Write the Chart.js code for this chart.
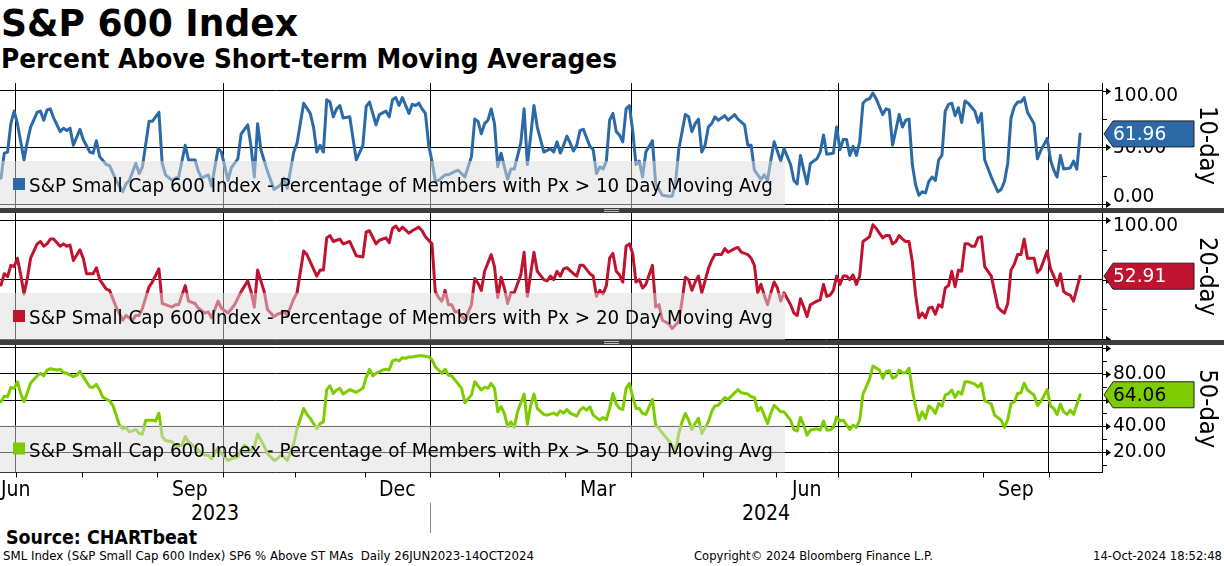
<!DOCTYPE html>
<html>
<head>
<meta charset="utf-8">
<script src="https://cdn.jsdelivr.net/npm/chart.js@4.4.1/dist/chart.umd.min.js"></script>
<style>
html, body { margin: 0; padding: 0; background: #fff; }
#page { position: relative; width: 1224px; height: 566px; overflow: hidden; font-family: "DejaVu Sans", sans-serif; color: #000; }
.t { position: absolute; white-space: pre; line-height: 1; transform-origin: 0 0; }
canvas { position: absolute; left: 0; }
.sep { position: absolute; left: 0; width: 1224px; height: 5px; background: #3d3d3d; }
.grip { position: absolute; left: 604px; width: 15px; height: 1px; background: #bbb; }
.yearsep { position: absolute; width: 1px; background: #888; }
</style>
</head>
<body>
<div id="page">
  <div class="t" id="title" style="left:1px;top:4px;font-size:38px;font-weight:bold">S&amp;P 600 Index</div>
  <div class="t" id="subtitle" style="left:1px;top:46px;font-size:26px;font-weight:bold">Percent Above Short-term Moving Averages</div>

  <canvas id="c1" width="1224" height="125" style="top:83px"></canvas>
  <div class="sep" style="top:208px"></div>
  <div class="grip" style="top:209px"></div><div class="grip" style="top:211px"></div>
  <canvas id="c2" width="1224" height="127" style="top:213px"></canvas>
  <div class="sep" style="top:340px"></div>
  <div class="grip" style="top:341px"></div><div class="grip" style="top:343px"></div>
  <canvas id="c3" width="1224" height="134" style="top:345px"></canvas>

  <div class="t" id="source" style="left:6px;top:528px;font-size:19px;font-weight:bold">Source: CHARTbeat</div>
  <div class="t" id="foot1" style="left:3px;top:550px;font-size:12px">SML Index (S&amp;P Small Cap 600 Index) SP6 % Above ST MAs  Daily 26JUN2023-14OCT2024</div>
  <div class="t" id="foot2" style="left:694px;top:550px;font-size:12px">Copyright© 2024 Bloomberg Finance L.P.</div>
  <div class="t" id="foot3" style="left:1093px;top:550px;font-size:12px">14-Oct-2024 18:52:48</div>
</div>

<script>
// trading-session index since 26 Jun 2023 (0) through 14 Oct 2024 (328), % of members above MA
const tenDay = [
  [0,23],[1,45],[2,46],[3,71],[4,82],[5,71],[7,39],[8,55],[9,68],[11,81],[12,82],[13,74],[14,83],[15,84],[16,76],[18,64],[19,67],[20,65],[21,67],[22,52],[24,66],[25,57],[27,46],[28,45],[29,56],[30,42],[32,35],[33,34],[35,21],[37,11],[38,18],[39,21],[41,36],[42,27],[43,33],[45,73],[46,73],[48,81],[49,36],[50,26],[52,21],[53,23],[54,24],[56,52],[57,39],[59,39],[60,29],[61,23],[63,26],[64,16],[66,49],[67,46],[69,21],[70,32],[72,40],[73,62],[75,70],[76,51],[77,24],[78,71],[79,48],[81,29],[83,13],[85,17],[86,23],[87,14],[89,46],[90,54],[92,89],[94,80],[95,68],[96,46],[97,52],[98,46],[99,92],[100,90],[101,77],[102,84],[103,87],[104,76],[106,77],[108,39],[110,52],[111,86],[112,90],[114,70],[115,79],[117,82],[118,77],[119,92],[120,94],[121,87],[122,94],[124,80],[125,88],[126,87],[127,89],[128,84],[129,80],[130,52],[131,38],[132,21],[133,21],[135,26],[136,26],[138,29],[139,30],[141,24],[143,42],[144,75],[145,73],[146,62],[147,71],[148,74],[149,84],[150,71],[151,33],[152,45],[153,33],[154,22],[155,31],[156,31],[158,54],[159,84],[160,35],[161,60],[162,87],[163,68],[164,57],[165,46],[167,49],[168,46],[169,55],[170,45],[171,52],[172,60],[173,54],[174,47],[175,52],[176,65],[177,66],[179,51],[180,48],[181,27],[182,33],[183,31],[184,38],[185,74],[186,80],[187,64],[188,61],[189,55],[190,84],[191,87],[192,65],[193,35],[194,38],[195,24],[196,46],[198,56],[199,18],[200,13],[201,8],[203,7],[204,7],[205,18],[206,48],[208,79],[209,77],[210,64],[211,71],[212,75],[213,46],[214,52],[215,68],[216,71],[217,77],[218,74],[220,78],[221,74],[223,79],[224,75],[226,70],[227,52],[228,52],[229,30],[231,22],[232,26],[233,21],[234,39],[235,55],[237,38],[238,49],[240,35],[241,21],[242,18],[243,43],[244,30],[245,18],[246,36],[248,40],[249,46],[250,61],[251,44],[253,45],[254,68],[255,48],[256,57],[257,57],[258,43],[259,51],[260,43],[261,55],[262,89],[263,92],[264,93],[265,98],[266,93],[268,79],[269,84],[270,83],[271,52],[273,79],[274,68],[275,74],[276,75],[277,35],[278,17],[279,8],[280,11],[281,10],[282,20],[283,24],[284,21],[285,39],[286,43],[287,82],[288,88],[289,89],[290,78],[291,85],[292,72],[293,91],[294,89],[296,82],[297,72],[298,80],[299,39],[301,24],[303,11],[304,13],[305,20],[306,36],[307,76],[308,86],[309,90],[310,90],[311,94],[312,81],[314,71],[315,40],[316,47],[318,58],[319,39],[320,30],[321,24],[322,43],[323,31],[325,32],[326,38],[327,31],[328,61.96]
];

const twentyDay = [
  [0,45.5],[1,55],[2,52.5],[3,62],[4,61],[5,68],[6,54],[7,38],[8,51],[9,68],[11,80],[12,82],[13,78],[14,80],[15,84],[16,84],[17,81],[18,78],[19,80],[20,78],[21,79],[22,66],[24,75],[25,68],[26,55],[28,55],[29,60],[30,50],[32,42],[33,41],[35,27],[37,16],[38,20],[40,16],[41,20],[42,20],[43,26],[45,44],[46,48],[48,59],[49,30],[50,29],[52,27],[53,29],[54,29],[56,45],[57,32],[59,30],[60,26],[62,22],[63,23],[64,18],[66,32],[67,26],[69,22],[71,29],[73,40],[75,49],[76,40],[77,27],[78,58],[80,40],[81,25],[83,19],[84,21],[86,23],[87,20],[89,34],[90,39],[92,74],[93,71],[94,65],[96,53],[97,58],[98,58],[99,85],[100,87],[101,82],[102,83],[103,84],[104,80],[106,82],[108,70],[110,69],[111,90],[112,91],[114,80],[115,83],[117,85],[118,81],[119,93],[120,95],[121,91],[122,94],[124,89],[125,91],[127,94],[128,91],[129,86],[131,80],[132,40],[133,35],[134,32],[135,41],[136,29],[137,29],[138,23],[139,23],[141,16],[143,29],[144,51],[145,47],[146,41],[147,57],[149,71],[150,61],[151,35],[152,52],[153,43],[154,30],[155,39],[156,39],[158,54],[159,73],[160,36],[161,55],[162,73],[163,57],[165,50],[166,49],[167,53],[168,50],[169,57],[170,53],[171,59],[172,60],[174,55],[175,53],[176,62],[177,62],[179,55],[180,53],[181,36],[182,41],[183,38],[184,45],[185,68],[186,72],[187,57],[188,54],[189,48],[190,78],[191,80],[192,72],[193,48],[194,50],[195,43],[196,46],[198,62],[199,27],[200,29],[201,16],[203,13],[204,9],[206,15],[207,32],[208,52],[209,50],[210,41],[211,48],[212,53],[213,39],[215,59],[216,66],[217,71],[219,71],[220,76],[221,73],[223,76],[224,77],[225,73],[227,71],[228,68],[229,62],[230,39],[231,46],[232,37],[233,29],[234,39],[235,48],[236,43],[237,32],[238,39],[240,29],[241,22],[242,20],[243,34],[244,27],[245,19],[246,29],[248,32],[249,33],[250,46],[251,36],[252,37],[253,41],[254,53],[255,46],[256,53],[257,53],[258,50],[259,54],[260,46],[261,53],[262,82],[264,86],[265,96],[266,93],[268,85],[269,87],[270,87],[271,80],[272,82],[273,87],[274,84],[275,82],[276,82],[277,65],[278,37],[279,18],[280,22],[281,18],[282,26],[283,27],[284,21],[285,29],[286,27],[287,43],[288,45],[289,57],[290,44],[291,58],[292,57],[293,80],[294,80],[295,78],[296,78],[297,85],[298,86],[299,61],[301,53],[303,27],[304,24],[305,22],[306,30],[307,58],[308,63],[309,71],[310,71],[311,84],[312,68],[314,68],[315,56],[316,59],[318,74],[319,59],[320,53],[321,45],[322,55],[323,40],[324,38],[325,37],[326,32],[328,52.91]
];

const fiftyDay = [
  [0,58.7],[1,63],[2,62.6],[3,69.7],[4,69],[5,74],[6,65],[7,58.7],[8,65.6],[9,73],[11,78.5],[12,80.5],[13,78.5],[14,83],[15,84],[17,83],[18,83.6],[19,81],[20,80.5],[22,78],[23,79],[24,82],[25,78],[27,70],[28,69.7],[29,72],[30,67.7],[31,62],[33,59.5],[34,56],[35,48.5],[36,40.8],[37,38],[38,39],[39,35.6],[41,37.4],[42,34.4],[43,34],[44,44.6],[46,44.6],[47,44],[48,50],[49,32],[50,29],[52,28],[53,24.6],[55,25.4],[56,32],[57,28],[59,24],[61,19],[62,17.7],[63,17.7],[64,15],[66,23.6],[67,19],[69,13.8],[70,15],[72,16.4],[73,22],[74,25.4],[76,21.5],[77,24],[78,34],[80,24.6],[81,19],[83,13.8],[84,15],[85,17.7],[86,16.4],[87,13.8],[89,26.7],[90,38],[92,53.6],[93,49],[94,46],[96,38],[97,42],[98,43.3],[99,68],[100,71],[101,65],[102,67.7],[103,69],[104,64.6],[106,68],[108,66],[110,69],[111,77.4],[112,83.6],[113,78.5],[114,80.5],[116,83],[117,83.6],[118,83],[119,90],[120,91],[121,90],[122,92.5],[123,92],[124,93],[125,93],[127,94],[128,94],[130,93],[131,91],[132,85.6],[133,83],[134,80.5],[135,83.6],[136,79],[137,78.5],[138,75.4],[140,69],[141,58],[143,64],[144,74],[146,67.7],[147,70],[148,69],[149,72.8],[150,69],[151,51],[152,55],[153,49.7],[154,39.5],[155,43.3],[156,39],[157,51],[159,64.6],[160,41.5],[161,56],[162,64.6],[163,53.6],[165,49],[166,48.5],[168,50],[169,48.5],[170,51.8],[171,50],[172,52.8],[173,50],[175,47.7],[176,52.3],[177,54.4],[178,52.3],[179,54.9],[180,48.5],[182,44.6],[183,46.7],[184,45],[185,53.6],[186,65],[187,57],[188,53.6],[189,52.8],[190,69],[191,72.8],[192,62.6],[193,53.6],[194,53.6],[195,49.7],[196,49],[198,60.5],[199,40.8],[200,38],[202,31.8],[204,25.4],[205,20],[206,34.4],[207,43.3],[208,49.7],[209,44.6],[210,37.4],[211,42],[212,46],[213,34.4],[215,43.3],[216,51],[217,55.4],[218,56],[220,62],[221,60.5],[222,63],[224,68],[225,65.6],[227,64.6],[228,62.6],[229,62],[230,51.8],[231,54.4],[233,42],[234,50],[235,56],[237,51],[238,51],[240,44.6],[241,37.4],[242,36.4],[243,46.7],[244,40.8],[245,33],[246,37],[248,38],[249,37],[250,44],[251,37],[252,37],[253,39],[254,47],[255,44],[256,44.6],[258,37.4],[259,40.8],[260,39],[261,44.6],[262,64.6],[264,76],[265,86],[267,83],[268,76.7],[269,81.8],[270,82.6],[271,76.7],[272,78],[273,83],[274,81],[275,81],[276,84.4],[277,67.7],[278,55],[279,44.6],[280,51],[281,46],[282,55.4],[283,53.6],[284,49.7],[285,57.4],[286,55.4],[287,63.8],[288,65],[289,67.7],[290,62],[291,66.4],[292,64.6],[293,74],[294,74],[296,72.3],[297,70],[298,72.8],[299,59.5],[301,57],[302,48.5],[304,44.6],[305,39],[306,45],[307,57.4],[308,58.7],[309,65],[310,65.6],[311,73],[312,67.7],[314,63.8],[315,56],[316,58.7],[318,68],[319,55.4],[320,53.6],[321,49],[322,57],[323,51],[324,49],[325,52.3],[326,49],[328,64.06]
];

// calendar on the same session index
const quarterStarts = [4.5, 67.5, 130.5, 191.5, 254.5, 318.5];
const monthStarts = [4.5, 24.5, 47.5, 67.5, 89.5, 110.5, 130.5, 151.5, 171.5, 191.5, 213.5, 235.5, 254.5, 276.5, 298.5, 318.5];
const monthLabels = ['Jun', 'Sep', 'Dec', 'Mar', 'Jun', 'Sep'];
const monthMids = [2, 57.5, 120.5, 181.5, 245, 308.5];
const yearLabels = ['2023', '2024'];
const yearBreak = 130.5;

const legendText = n => 'S&P Small Cap 600 Index - Percentage of Members with Px > ' + n + ' Day Moving Avg';
const FONT = '"DejaVu Sans", sans-serif';
const SQUEEZE = 0.9; // DejaVu is wider than the Tahoma look of the original

function drawText(ctx, txt, x, y, size, sx, align, base) {
    ctx.save();
    ctx.font = size + 'px ' + FONT;
    ctx.textAlign = align || 'left';
    ctx.textBaseline = base || 'middle';
    ctx.translate(x, y);
    ctx.scale(sx, 1);
    ctx.fillText(txt, 0, 0);
    ctx.restore();
}

const panelDecor = {
    id: 'panelDecor',
    afterDatasetsDraw(chart, args, o) {
        const { ctx, chartArea: a } = chart;
        ctx.save();
        // translucent legend strip over the lower part of the panel
        ctx.fillStyle = 'rgba(222,222,222,0.5)';
        ctx.fillRect(0, a.bottom - 47, 785, 47);
        ctx.fillStyle = o.color;
        ctx.fillRect(13, a.bottom - 30, 12, 12);
        ctx.fillStyle = '#000';
        ctx.font = '20px ' + FONT;
        const w = ctx.measureText(o.legend).width;
        drawText(ctx, o.legend, 29, a.bottom - 16, 20, 744 / w, 'left', 'alphabetic');
        ctx.restore();
    },
    afterDraw(chart, args, o) {
        const { ctx, chartArea: a, scales: { x, y } } = chart;
        const r = a.right;
        ctx.save();
        ctx.strokeStyle = '#000';
        ctx.fillStyle = '#000';
        ctx.lineWidth = 1;
        o.minor.forEach(v => {
            const py = Math.round(y.getPixelForValue(v)) + 0.5;
            ctx.beginPath(); ctx.moveTo(r, py); ctx.lineTo(r + 5, py); ctx.stroke();
        });
        o.major.forEach(v => {
            const py = Math.round(y.getPixelForValue(v)) + 0.5;
            ctx.beginPath(); ctx.moveTo(r, py); ctx.lineTo(r + 5, py); ctx.stroke();
            ctx.beginPath(); ctx.moveTo(r + 4, py - 3.5); ctx.lineTo(r + 9, py); ctx.lineTo(r + 4, py + 3.5); ctx.closePath(); ctx.fill();
        });
        o.labels.forEach(v => {
            let py = y.getPixelForValue(v);
            py = Math.min(Math.max(py, a.top + 13), a.bottom - 11);
            drawText(ctx, v.toFixed(2), r + 11, py, 20, 0.93);
        });

        // last value tag
        const last = o.series[o.series.length - 1][1];
        const ty = y.getPixelForValue(last);
        ctx.beginPath();
        ctx.moveTo(r + 2, ty);
        ctx.lineTo(r + 11, ty - 13);
        ctx.lineTo(r + 92, ty - 13);
        ctx.lineTo(r + 92, ty + 13);
        ctx.lineTo(r + 11, ty + 13);
        ctx.closePath();
        ctx.fillStyle = o.color;
        ctx.fill();
        ctx.strokeStyle = '#222';
        ctx.stroke();
        ctx.fillStyle = o.tagText;
        drawText(ctx, last.toFixed(2), r + 11, ty + 1, 20, 0.93);

        // panel name, rotated
        ctx.save();
        ctx.translate(1206, (a.top + a.bottom) / 2);
        ctx.rotate(Math.PI / 2);
        ctx.fillStyle = '#000';
        drawText(ctx, o.title, 0, 0, 24, 0.95, 'center');
        ctx.restore();

        // month ticks under the time axis
        if (o.timeAxis) {
            ctx.strokeStyle = '#000';
            monthStarts.forEach(m => {
                const px = Math.round(x.getPixelForValue(m)) + 0.5;
                ctx.beginPath(); ctx.moveTo(px, a.bottom); ctx.lineTo(px, a.bottom + 5); ctx.stroke();
            });
        }
        ctx.restore();
    }
};

function makePanel(id, series, color, o) {
    return new Chart(document.getElementById(id), {
        type: 'line',
        data: {
            datasets: [{
                data: series.map(([d, v]) => ({ x: d, y: v })),
                borderColor: color,
                borderWidth: 3,
                pointRadius: 0,
                tension: 0,
                borderJoinStyle: 'round',
                borderCapStyle: 'round'
            }]
        },
        options: {
            responsive: false,
            animation: false,
            layout: { padding: { left: 0, right: 0, top: 0, bottom: o.bottomPad || 0 } },
            plugins: {
                legend: { display: false },
                tooltip: { enabled: false },
                panelDecor: Object.assign({ color: color, series: series }, o)
            },
            scales: {
                x: {
                    type: 'linear',
                    min: -0.3,
                    max: 334.65,
                    afterBuildTicks: s => { s.ticks = quarterStarts.map(v => ({ value: v })); },
                    afterFit: s => { s.height = 0; },
                    ticks: { display: false },
                    grid: { color: '#000', lineWidth: 1, drawTicks: false },
                    border: { display: !!o.timeAxis, color: '#000', width: 1 }
                },
                y: {
                    position: 'right',
                    min: o.min,
                    max: o.max,
                    afterBuildTicks: s => { s.ticks = o.major.concat(o.minor).map(v => ({ value: v })); },
                    afterFit: s => { s.width = 122; },
                    ticks: { display: false },
                    grid: {
                        drawTicks: false,
                        lineWidth: 1,
                        color: c => o.major.includes(c.tick.value) ? '#000' : 'rgba(0,0,0,0)'
                    },
                    border: { display: true, color: '#000', width: 1 }
                }
            }
        },
        plugins: [panelDecor]
    });
}

makePanel('c1', tenDay, '#2b6aa7', {
    min: -3.26, max: 106.78, major: [0, 50, 100], minor: [25, 75], labels: [0, 50, 100],
    title: '10-day', tagText: '#fff', legend: legendText(10)
});
makePanel('c2', twentyDay, '#c01330', {
    min: -0.59, max: 105.87, major: [0, 50, 100], minor: [25, 75], labels: [50, 100],
    title: '20-day', tagText: '#fff', legend: legendText(20)
});
const bottomChart = makePanel('c3', fiftyDay, '#7ccc00', {
    min: 4.5, max: 102.2, major: [20, 40, 60, 80, 100], minor: [10, 30, 50, 70, 90], labels: [20, 40, 60, 80],
    title: '50-day', tagText: '#000', legend: legendText(50), timeAxis: true, bottomPad: 6.5
});

// html text: squeeze to the widths of the original
const page = document.getElementById('page');
function fit(el, w) {
    const r = el.getBoundingClientRect().width;
    el.style.transform = 'scaleX(' + (w / r) + ')';
}
fit(document.getElementById('title'), 297);
fit(document.getElementById('subtitle'), 616);
fit(document.getElementById('source'), 191);
fit(document.getElementById('foot1'), 531);
fit(document.getElementById('foot2'), 239);
fit(document.getElementById('foot3'), 129);

// month and year labels placed by the bottom chart's time scale
const xs = bottomChart.scales.x;
function addLabel(txt, cx, top, clampLeft) {
    const el = document.createElement('div');
    el.className = 't';
    el.textContent = txt;
    el.style.fontSize = '21px';
    el.style.top = top + 'px';
    page.appendChild(el);
    const w = el.getBoundingClientRect().width * SQUEEZE;
    let left = cx - w / 2;
    if (clampLeft) left = Math.max(1, left);
    el.style.left = left + 'px';
    el.style.transform = 'scaleX(' + SQUEEZE + ')';
}
monthLabels.forEach((m, i) => addLabel(m, xs.getPixelForValue(monthMids[i]), 479, true));
const xL = xs.getPixelForValue(xs.min), xB = xs.getPixelForValue(yearBreak), xR = xs.getPixelForValue(xs.max);
addLabel(yearLabels[0], (xL + xB) / 2, 503, false);
addLabel(yearLabels[1], (xB + xR) / 2, 503, false);
const ysep = document.createElement('div');
ysep.className = 'yearsep';
ysep.style.left = Math.round(xB) + 'px';
ysep.style.top = '503px';
ysep.style.height = '30px';
page.appendChild(ysep);
</script>
</body>
</html>
